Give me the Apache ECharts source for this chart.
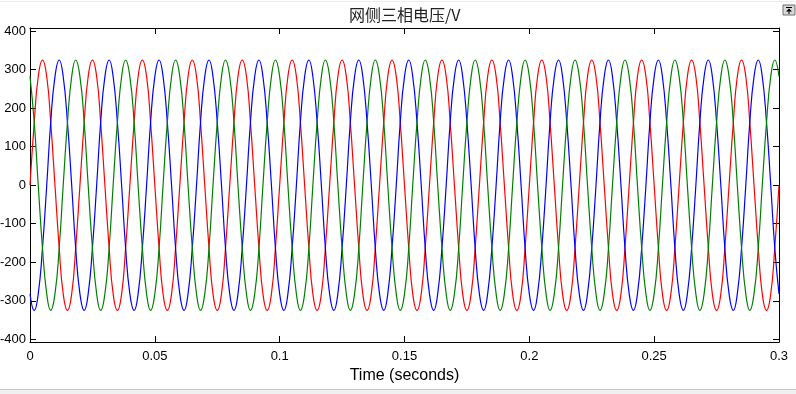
<!DOCTYPE html>
<html>
<head>
<meta charset="utf-8">
<script src="https://cdn.jsdelivr.net/npm/echarts@6/dist/echarts.min.js"></script>
<style>
html,body{margin:0;padding:0;background:#fff;}
#c{width:796px;height:394px;}
</style>
</head>
<body>
<div id="c"></div>
<script>
// Sample times (s), one 50 Hz cycle per line
const times = [
  0, 0.0017, 0.0033, 0.005, 0.0067, 0.0083, 0.01, 0.0117, 0.0133, 0.015, 0.0167, 0.0183,
  0.02, 0.0217, 0.0233, 0.025, 0.0267, 0.0283, 0.03, 0.0317, 0.0333, 0.035, 0.0367, 0.0383,
  0.04, 0.0417, 0.0433, 0.045, 0.0467, 0.0483, 0.05, 0.0517, 0.0533, 0.055, 0.0567, 0.0583,
  0.06, 0.0617, 0.0633, 0.065, 0.0667, 0.0683, 0.07, 0.0717, 0.0733, 0.075, 0.0767, 0.0783,
  0.08, 0.0817, 0.0833, 0.085, 0.0867, 0.0883, 0.09, 0.0917, 0.0933, 0.095, 0.0967, 0.0983,
  0.1, 0.1017, 0.1033, 0.105, 0.1067, 0.1083, 0.11, 0.1117, 0.1133, 0.115, 0.1167, 0.1183,
  0.12, 0.1217, 0.1233, 0.125, 0.1267, 0.1283, 0.13, 0.1317, 0.1333, 0.135, 0.1367, 0.1383,
  0.14, 0.1417, 0.1433, 0.145, 0.1467, 0.1483, 0.15, 0.1517, 0.1533, 0.155, 0.1567, 0.1583,
  0.16, 0.1617, 0.1633, 0.165, 0.1667, 0.1683, 0.17, 0.1717, 0.1733, 0.175, 0.1767, 0.1783,
  0.18, 0.1817, 0.1833, 0.185, 0.1867, 0.1883, 0.19, 0.1917, 0.1933, 0.195, 0.1967, 0.1983,
  0.2, 0.2017, 0.2033, 0.205, 0.2067, 0.2083, 0.21, 0.2117, 0.2133, 0.215, 0.2167, 0.2183,
  0.22, 0.2217, 0.2233, 0.225, 0.2267, 0.2283, 0.23, 0.2317, 0.2333, 0.235, 0.2367, 0.2383,
  0.24, 0.2417, 0.2433, 0.245, 0.2467, 0.2483, 0.25, 0.2517, 0.2533, 0.255, 0.2567, 0.2583,
  0.26, 0.2617, 0.2633, 0.265, 0.2667, 0.2683, 0.27, 0.2717, 0.2733, 0.275, 0.2767, 0.2783,
  0.28, 0.2817, 0.2833, 0.285, 0.2867, 0.2883, 0.29, 0.2917, 0.2933, 0.295, 0.2967, 0.2983,
  0.3
];

// Phase A (red), V
const phaseA = [
  0, 163, 282, 325, 282, 163, 0, -163, -282, -325, -282, -163,
  0, 163, 282, 325, 282, 163, 0, -163, -282, -325, -282, -163,
  0, 163, 282, 325, 282, 163, 0, -163, -282, -325, -282, -163,
  0, 163, 282, 325, 282, 163, 0, -163, -282, -325, -282, -163,
  0, 163, 282, 325, 282, 163, 0, -163, -282, -325, -282, -163,
  0, 163, 282, 325, 282, 163, 0, -163, -282, -325, -282, -163,
  0, 163, 282, 325, 282, 163, 0, -163, -282, -325, -282, -163,
  0, 163, 282, 325, 282, 163, 0, -163, -282, -325, -282, -163,
  0, 163, 282, 325, 282, 163, 0, -163, -282, -325, -282, -163,
  0, 163, 282, 325, 282, 163, 0, -163, -282, -325, -282, -163,
  0, 163, 282, 325, 282, 163, 0, -163, -282, -325, -282, -163,
  0, 163, 282, 325, 282, 163, 0, -163, -282, -325, -282, -163,
  0, 163, 282, 325, 282, 163, 0, -163, -282, -325, -282, -163,
  0, 163, 282, 325, 282, 163, 0, -163, -282, -325, -282, -163,
  0, 163, 282, 325, 282, 163, 0, -163, -282, -325, -282, -163,
  0
];

// Phase B (blue), V
const phaseB = [
  -282, -325, -282, -163, 0, 163, 282, 325, 282, 163, 0, -163,
  -282, -325, -282, -163, 0, 163, 282, 325, 282, 163, 0, -163,
  -282, -325, -282, -163, 0, 163, 282, 325, 282, 163, 0, -163,
  -282, -325, -282, -163, 0, 163, 282, 325, 282, 163, 0, -163,
  -282, -325, -282, -163, 0, 163, 282, 325, 282, 163, 0, -163,
  -282, -325, -282, -163, 0, 163, 282, 325, 282, 163, 0, -163,
  -282, -325, -282, -163, 0, 163, 282, 325, 282, 163, 0, -163,
  -282, -325, -282, -163, 0, 163, 282, 325, 282, 163, 0, -163,
  -282, -325, -282, -163, 0, 163, 282, 325, 282, 163, 0, -163,
  -282, -325, -282, -163, 0, 163, 282, 325, 282, 163, 0, -163,
  -282, -325, -282, -163, 0, 163, 282, 325, 282, 163, 0, -163,
  -282, -325, -282, -163, 0, 163, 282, 325, 282, 163, 0, -163,
  -282, -325, -282, -163, 0, 163, 282, 325, 282, 163, 0, -163,
  -282, -325, -282, -163, 0, 163, 282, 325, 282, 163, 0, -163,
  -282, -325, -282, -163, 0, 163, 282, 325, 282, 163, 0, -163,
  -282
];

// Phase C (green), V
const phaseC = [
  282, 163, 0, -163, -282, -325, -282, -163, 0, 163, 282, 325,
  282, 163, 0, -163, -282, -325, -282, -163, 0, 163, 282, 325,
  282, 163, 0, -163, -282, -325, -282, -163, 0, 163, 282, 325,
  282, 163, 0, -163, -282, -325, -282, -163, 0, 163, 282, 325,
  282, 163, 0, -163, -282, -325, -282, -163, 0, 163, 282, 325,
  282, 163, 0, -163, -282, -325, -282, -163, 0, 163, 282, 325,
  282, 163, 0, -163, -282, -325, -282, -163, 0, 163, 282, 325,
  282, 163, 0, -163, -282, -325, -282, -163, 0, 163, 282, 325,
  282, 163, 0, -163, -282, -325, -282, -163, 0, 163, 282, 325,
  282, 163, 0, -163, -282, -325, -282, -163, 0, 163, 282, 325,
  282, 163, 0, -163, -282, -325, -282, -163, 0, 163, 282, 325,
  282, 163, 0, -163, -282, -325, -282, -163, 0, 163, 282, 325,
  282, 163, 0, -163, -282, -325, -282, -163, 0, 163, 282, 325,
  282, 163, 0, -163, -282, -325, -282, -163, 0, 163, 282, 325,
  282, 163, 0, -163, -282, -325, -282, -163, 0, 163, 282, 325,
  282
];

// Axis ticks
const yTicks = [-400, -300, -200, -100, 0, 100, 200, 300, 400];
const xTicks = [0, 0.05, 0.1, 0.15, 0.2, 0.25, 0.3];

const titleText = '网侧三相电压/V';
const xAxisName = 'Time (seconds)';

const pair = arr => times.map((t, i) => [t, arr[i]]);
const fam = '"Liberation Sans", Arial, sans-serif';

const chart = echarts.init(document.getElementById('c'), null, {renderer: 'canvas'});
const xTick = {show: true, inside: true, length: 6, customValues: xTicks, lineStyle: {color: '#000', width: 1}};
const yTick = {show: true, inside: true, length: 6, customValues: yTicks, lineStyle: {color: '#000', width: 1}};
chart.setOption({
  animation: false,
  backgroundColor: '#fff',
  title: {
    text: titleText,
    left: 349, top: 7, padding: 0,
    textStyle: {fontFamily: '"Noto Sans CJK SC", sans-serif', fontWeight: 'normal', fontSize: 16, color: '#222'}
  },
  grid: {left: 30, right: 17, top: 28, bottom: 52, containLabel: false, outerBoundsMode: 'none'},
  xAxis: [{
    type: 'value', min: 0, max: 0.3,
    name: xAxisName, nameLocation: 'middle', nameGap: 26,
    nameTextStyle: {fontFamily: fam, fontSize: 16, color: '#000'},
    axisLine: {show: true, onZero: false, lineStyle: {color: '#000', width: 1}},
    axisTick: xTick,
    axisLabel: {fontFamily: fam, fontSize: 13, color: '#000', margin: 8, customValues: xTicks},
    splitLine: {show: false}
  }, {
    type: 'value', min: 0, max: 0.3, position: 'top',
    axisLine: {show: true, onZero: false, lineStyle: {color: '#000', width: 1}},
    axisTick: xTick,
    axisLabel: {show: false}, splitLine: {show: false}
  }],
  yAxis: [{
    type: 'value', min: -407, max: 408,
    axisLine: {show: true, onZero: false, lineStyle: {color: '#000', width: 1}},
    axisTick: yTick,
    axisLabel: {fontFamily: fam, fontSize: 13, color: '#000', margin: 4, customValues: yTicks},
    splitLine: {show: false}
  }, {
    type: 'value', min: -407, max: 408, position: 'right',
    axisLine: {show: true, onZero: false, lineStyle: {color: '#000', width: 1}},
    axisTick: yTick,
    axisLabel: {show: false}, splitLine: {show: false}
  }],
  series: [
    {type: 'line', data: pair(phaseA), showSymbol: false, smooth: 0.5, lineStyle: {color: '#ff0000', width: 1.2}, itemStyle: {color: '#ff0000'}},
    {type: 'line', data: pair(phaseB), showSymbol: false, smooth: 0.5, lineStyle: {color: '#0000ff', width: 1.2}, itemStyle: {color: '#0000ff'}},
    {type: 'line', data: pair(phaseC), showSymbol: false, smooth: 0.5, lineStyle: {color: '#008000', width: 1.2}, itemStyle: {color: '#008000'}}
  ],
  graphic: [
    {type: 'rect', shape: {x: 0, y: 389, width: 796, height: 5}, style: {fill: '#f0f0f0'}, silent: true},
    {type: 'line', shape: {x1: 0, y1: 389.5, x2: 796, y2: 389.5}, style: {stroke: '#c8c8c8', lineWidth: 1}, silent: true},
    {type: 'line', shape: {x1: 0, y1: 1.5, x2: 796, y2: 1.5}, style: {stroke: '#ececec', lineWidth: 1}, silent: true},
    {type: 'rect', shape: {x: 783, y: 5, width: 12, height: 10}, style: {fill: '#d8d8d8', stroke: '#707070', lineWidth: 1}, silent: true},
    {type: 'line', shape: {x1: 786, y1: 7.5, x2: 792, y2: 7.5}, style: {stroke: '#000', lineWidth: 1}, silent: true},
    {type: 'polygon', shape: {points: [[789, 8.5], [786, 11.5], [792, 11.5]]}, style: {fill: '#000'}, silent: true},
    {type: 'line', shape: {x1: 789, y1: 11, x2: 789, y2: 14}, style: {stroke: '#000', lineWidth: 1}, silent: true}
  ]
});
</script>
</body>
</html>
